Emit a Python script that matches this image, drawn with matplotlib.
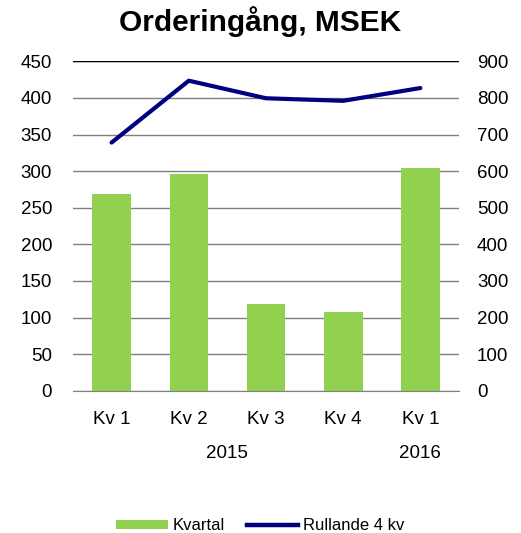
import matplotlib
matplotlib.use("Agg")
import matplotlib.pyplot as plt
from matplotlib.lines import Line2D
from matplotlib.patches import Patch

quarters = ["Kv 1", "Kv 2", "Kv 3", "Kv 4", "Kv 1"]
years = ["2015", "2016"]
year_spans = [(0, 4), (4, 5)]
kvartal = [269, 296, 118, 107, 304]
rullande = [678, 847, 799, 792, 827]
left_ticks = [0, 50, 100, 150, 200, 250, 300, 350, 400, 450]
right_ticks = [0, 100, 200, 300, 400, 500, 600, 700, 800, 900]

plt.rcParams['font.family'] = ['Liberation Sans', 'DejaVu Sans']

fig = plt.figure(figsize=(5.21, 5.33), dpi=100)
ax = fig.add_axes([73/521, 1 - 390.7/533, 386/521, 329.4/533])
ax2 = ax.twinx()

x = list(range(len(quarters)))
ax.bar(x, kvartal, width=0.5, color="#92D050", zorder=2)
ax.set_xlim(-0.5, len(quarters) - 0.5)
ax.set_ylim(0, 450)
ax.set_yticks(left_ticks)
ax.set_yticklabels([str(t) for t in left_ticks], fontsize=13.5)
ax.yaxis.grid(True, color="#808080", linewidth=1, zorder=0)
ax.set_axisbelow(True)
ax.tick_params(axis="y", length=0, pad=15)
ax.tick_params(axis="x", length=0, pad=14.5)
ax.set_xticks(x)
ax.set_xticklabels(quarters, fontsize=13.5)
for s in ["top", "left", "right"]:
    ax.spines[s].set_visible(False)
ax.spines["bottom"].set_color("#808080")

ax2.plot(x, rullande, color="#000080", linewidth=3, solid_capstyle="round", zorder=3)
ax2.set_ylim(0, 900)
ax2.set_yticks(right_ticks)
ax2.set_yticklabels([str(t) for t in right_ticks], fontsize=13.5)
ax2.tick_params(axis="y", length=0, pad=13)
for s in ["top", "left", "right", "bottom"]:
    ax2.spines[s].set_visible(False)
ax.axhline(450, color="black", linewidth=1, zorder=1)

for yr, (a, b) in zip(years, year_spans):
    xc = (a - 0.5 + b - 0.5) / 2
    ax.text(xc, -0.19, yr, transform=ax.get_xaxis_transform(), ha="center",
            va="center", fontsize=13.5)

fig.text(0.5, 1 - 22/533, "Orderingång, MSEK", ha="center", va="center",
         fontsize=21.5, fontweight="bold")

handles = [Patch(facecolor="#92D050", edgecolor="none"),
           Line2D([0], [0], color="#000080", linewidth=3.2)]
fig.legend(handles, ["Kvartal", "Rullande 4 kv"], loc="center",
           bbox_to_anchor=(0.5, 1 - 526/533), ncol=2, frameon=False,
           fontsize=12, handlelength=3.1, handleheight=0.45, columnspacing=1.3,
           handletextpad=0.3, borderpad=0)

fig.savefig("out.png", dpi=100)
